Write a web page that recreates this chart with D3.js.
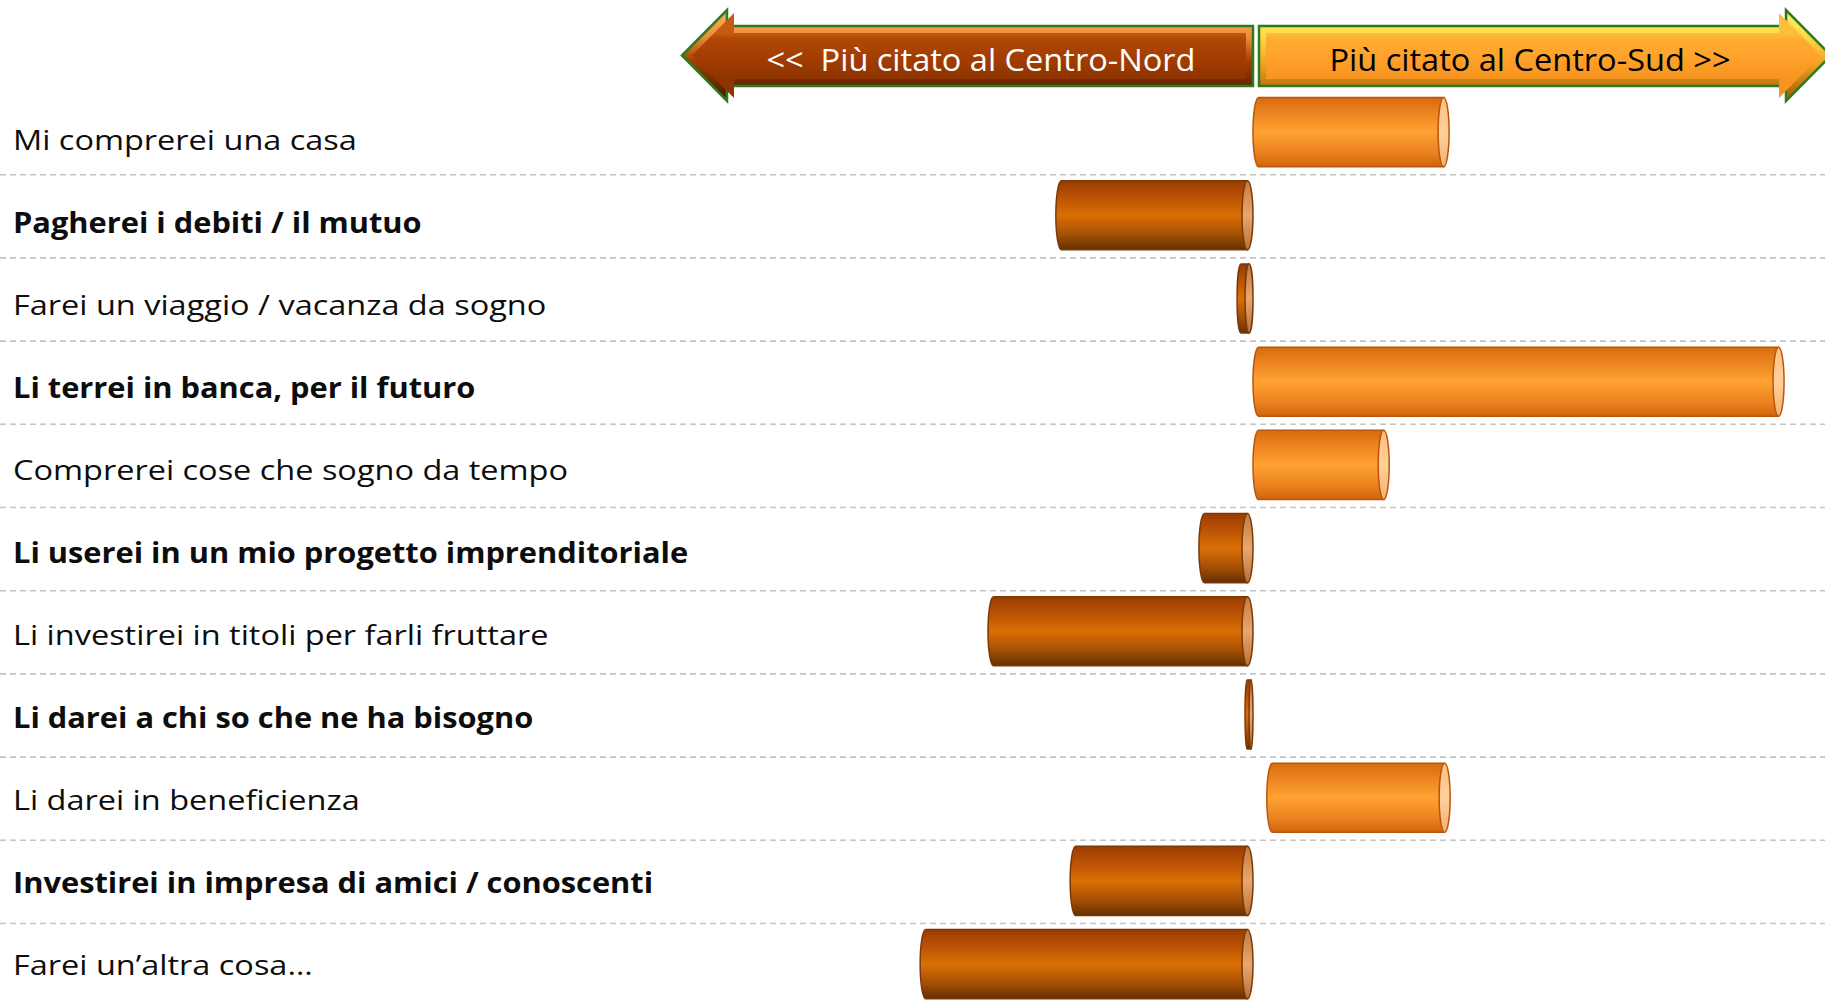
<!DOCTYPE html>
<html>
<head>
<meta charset="utf-8">
<script src="https://cdn.jsdelivr.net/npm/d3@7"></script>
<style>
  html, body { margin: 0; padding: 0; background: #fff; }
  svg { display: block; }
</style>
</head>
<body>
<div id="chart"></div>
<script>
// dati: differenza Centro-Sud meno Centro-Nord (punti)
const labels = [
  "Mi comprerei una casa",
  "Pagherei i debiti / il mutuo",
  "Farei un viaggio / vacanza da sogno",
  "Li terrei in banca, per il futuro",
  "Comprerei cose che sogno da tempo",
  "Li userei in un mio progetto imprenditoriale",
  "Li investirei in titoli per farli fruttare",
  "Li darei a chi so che ne ha bisogno",
  "Li darei in beneficienza",
  "Investirei in impresa di amici / conoscenti",
  "Farei un\u2019altra cosa\u2026"
];
const boldRows = [false, true, false, true, false, true, false, true, false, true, false];
const barStart = [0, 0, 0, 0, 0, 0, 0, 0, 0.26, 0, 0];
const barEnd   = [3.70, -3.72, -0.30, 10.02, 2.57, -1.02, -5.00, -0.15, 3.72, -3.45, -6.28];
const arrowTexts = ["<<  Più citato al Centro-Nord", "Più citato al Centro-Sud >>"];

const W = 1825, H = 1000;
// il grafico originale è allungato in orizzontale
const sxNormal = 1.16, sxBold = 1.10, sxArrow = 1.05;

const svg = d3.select("#chart").append("svg")
  .attr("width", W).attr("height", H);

const defs = svg.append("defs");

function vGrad(id, stops, units, y1, y2) {
  const g = defs.append("linearGradient").attr("id", id)
    .attr("x1", 0).attr("x2", 0);
  if (units) {
    g.attr("gradientUnits", "userSpaceOnUse").attr("y1", y1).attr("y2", y2);
  } else {
    g.attr("y1", 0).attr("y2", 1);
  }
  stops.forEach(s => g.append("stop").attr("offset", s[0]).attr("stop-color", s[1]));
}

// cilindri
vGrad("darkBody", [[0, "#9c3a02"], [0.18, "#b24c04"], [0.5, "#da6f05"], [0.78, "#a44f05"], [1, "#663000"]]);
vGrad("darkCap", [[0, "#c47a40"], [0.5, "#eaa66c"], [1, "#b8703c"]]);
vGrad("lightBody", [[0, "#d86a0c"], [0.2, "#ea8220"], [0.5, "#ffa232"], [0.8, "#ea8220"], [1, "#d2640a"]]);
vGrad("lightCap", [[0, "#ffbf80"], [0.5, "#ffd09a"], [1, "#f5b070"]]);

// frecce
vGrad("leftEdge", [[0, "#ffb060"], [0.3, "#f08a3a"], [0.55, "#a84000"], [1, "#3e1800"]], true, 10, 101);
vGrad("leftFace", [[0, "#c45a14"], [0.12, "#b04806"], [0.5, "#a43e02"], [1, "#8e3400"]], true, 33, 79);
vGrad("rightEdge", [[0, "#fff070"], [0.3, "#ffd844"], [0.6, "#f0a020"], [1, "#9a5808"]], true, 10, 101);
vGrad("rightFace", [[0, "#ffbe3a"], [0.15, "#ffac30"], [0.5, "#ffa22c"], [1, "#f79420"]], true, 33, 79);

// scale
const x = d3.scaleLinear().domain([0, 10]).range([1253, 1783]);
const y = d3.scaleBand().domain(labels).range([90.5, 1005.7])
  .paddingInner(0.17).paddingOuter(0.085);
const step = y.step();
// linea di base delle etichette
const yText = d3.scalePoint().domain(labels).range([150, 975]);

// linee tratteggiate tra le righe
svg.append("g").selectAll("line")
  .data(labels.slice(0, -1))
  .join("line")
  .attr("x1", 0).attr("x2", W)
  .attr("y1", d => y(d) - y.paddingOuter() * step + step + 1)
  .attr("y2", d => y(d) - y.paddingOuter() * step + step + 1)
  .attr("stroke", "#c4c4c4")
  .attr("stroke-width", 1.6)
  .attr("stroke-dasharray", "6 4");

// etichette
svg.append("g").selectAll("text")
  .data(labels)
  .join("text")
  .attr("transform", (d, i) => `translate(13,${yText(d)}) scale(${boldRows[i] ? sxBold : sxNormal},1)`)
  .attr("font-family", "'Open Sans', sans-serif")
  .attr("font-size", 28)
  .attr("font-weight", (d, i) => boldRows[i] ? 700 : 400)
  .attr("fill", "#0d0d0d")
  .text(d => d);

// barre a cilindro
const bars = labels.map((d, i) => ({
  label: d,
  a: Math.min(barStart[i], barEnd[i]),
  b: Math.max(barStart[i], barEnd[i]),
  neg: barEnd[i] < 0
}));

const barG = svg.append("g").selectAll("g")
  .data(bars)
  .join("g");

barG.each(function(d) {
  const g = d3.select(this);
  const x0 = x(d.a), x1 = x(d.b);
  const top = y(d.label), bot = top + y.bandwidth();
  const ry = (bot - top) / 2, cy = top + ry;
  const rx = Math.min(5.5, (x1 - x0) / 4);
  const body = `M${x0 + rx},${top} L${x1 - rx},${top} L${x1 - rx},${bot} L${x0 + rx},${bot} ` +
               `A${rx},${ry} 0 0 1 ${x0 + rx},${top} Z`;
  g.append("path")
    .attr("d", body)
    .attr("fill", d.neg ? "url(#darkBody)" : "url(#lightBody)")
    .attr("stroke", d.neg ? "#7a3a08" : "#b8560f")
    .attr("stroke-width", 1.5);
  g.append("ellipse")
    .attr("cx", x1 - rx).attr("cy", cy)
    .attr("rx", rx).attr("ry", ry)
    .attr("fill", d.neg ? "url(#darkCap)" : "url(#lightCap)")
    .attr("stroke", d.neg ? "#7a3a08" : "#b8560f")
    .attr("stroke-width", 1.5);
});

// frecce in alto
function arrowPts(tip, headBase, end, d) {
  const s = Math.sign(end - tip);
  const cy = 55.5, bTop = 26, bBot = 86, hTop = 10, hBot = 101;
  const m1 = (hTop - cy) / (headBase - tip);
  const m2 = (hBot - cy) / (headBase - tip);
  const tx = tip + s * d * Math.SQRT2;
  const hb = headBase + s * d;
  const ex = end - s * d;
  return [
    [tx, cy],
    [hb, cy + m1 * (hb - tx)],
    [hb, bTop + d],
    [ex, bTop + d],
    [ex, bBot - d],
    [hb, bBot - d],
    [hb, cy + m2 * (hb - tx)]
  ];
}

const arrows = [
  { tip: 682, head: 727, end: 1253, edge: "url(#leftEdge)", face: "url(#leftFace)", text: arrowTexts[0], color: "#ffffff", tx: 981 },
  { tip: 1831, head: 1786, end: 1259, edge: "url(#rightEdge)", face: "url(#rightFace)", text: arrowTexts[1], color: "#000000", tx: 1530 }
];

const arrowG = svg.append("g").selectAll("g")
  .data(arrows)
  .join("g");

arrowG.append("polygon")
  .attr("points", d => arrowPts(d.tip, d.head, d.end, 0).join(" "))
  .attr("fill", d => d.edge)
  .attr("stroke", "#2e7a1c")
  .attr("stroke-width", 2.5)
  .attr("stroke-linejoin", "miter");

arrowG.append("polygon")
  .attr("points", d => arrowPts(d.tip, d.head, d.end, 7).join(" "))
  .attr("fill", d => d.face);

arrowG.append("text")
  .attr("transform", d => `translate(${d.tx},71) scale(${sxArrow},1)`)
  .attr("text-anchor", "middle")
  .attr("font-family", "'Open Sans', sans-serif")
  .attr("font-size", 31)
  .attr("fill", d => d.color)
  .style("white-space", "pre")
  .text(d => d.text);
</script>
</body>
</html>
